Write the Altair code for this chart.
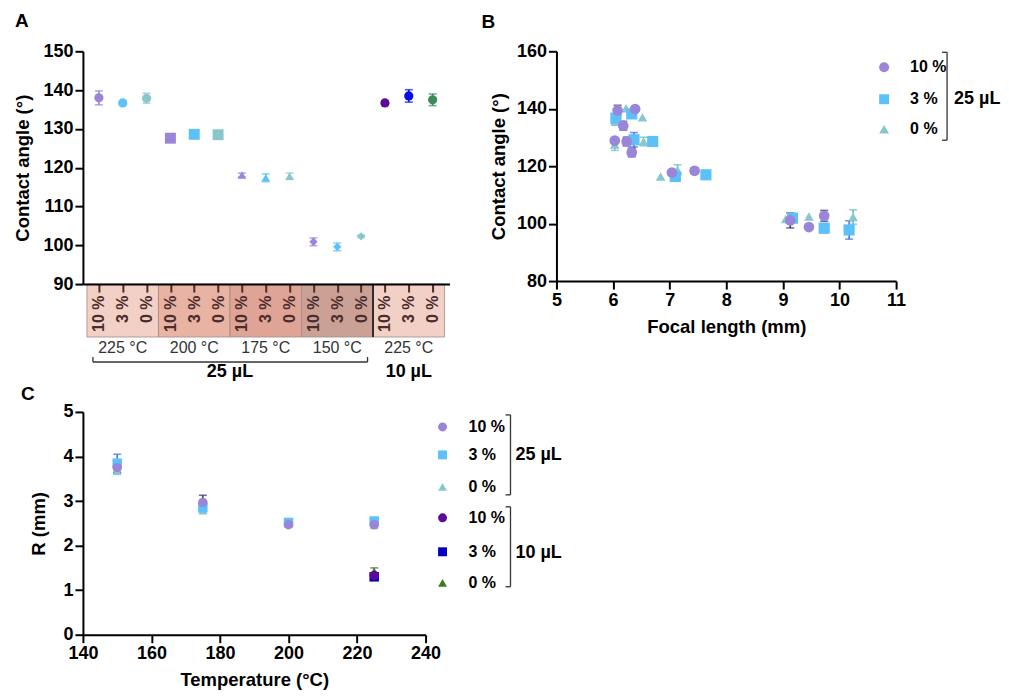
import altair as alt
import pandas as pd

FONT = "Liberation Sans"
PURPLE, LBLUE, TEAL = "#9a85d8", "#5ec0f8", "#88c8cc"
DPURPLE, DBLUE, DGREEN = "#5b0a9a", "#0a0af0", "#3e8a5a"
C_DBLUE, C_GREEN = "#0000c0", "#3a7d1e"
ERR10, ERR3, ERR0 = "#3b2f78", "#3a6cf0", "#6bbcbc"

# ---------------- Panel A data ----------------
a_labels = ["10 %", "3 %", "0 %"] * 5
a_groups = ["225 °C", "200 °C", "175 °C", "150 °C", "225 °C"]
a_group_fill = ["#f3d0c5", "#e8b3a2", "#dfa495", "#cba196", "#f3d0c5"]
a_group_shape = ["circle", "square", "triangle-up", "diamond", "circle"]
a_group_size = [85, 120, 75, 70, 85]
a_angle = [138.0, 136.7, 137.9, 127.6, 128.6, 128.5, 118.1, 117.4, 117.8,
           100.9, 99.6, 102.3, 136.7, 138.5, 137.5]
a_err = [1.8, 0.5, 1.3, 0.0, 0.0, 0.0, 0.5, 1.0, 0.8, 1.0, 1.0, 0.3, 0.5, 1.6, 1.5]
a_colors = [PURPLE, LBLUE, TEAL] * 4 + [DPURPLE, DBLUE, DGREEN]
a_volumes = ["25 µL", "10 µL"]

# ---------------- Panel B data ----------------
b10_x = [6.08, 6.39, 6.18, 6.03, 6.24, 6.33, 7.04, 7.44, 9.13, 9.46, 9.73]
b10_y = [139.4, 139.9, 134.1, 128.9, 128.6, 124.8, 117.8, 118.4, 101.1, 98.8, 102.7]
b10_e = [1.8, 0.0, 1.5, 0.0, 1.5, 1.5, 0.0, 1.0, 2.6, 0.0, 1.9]
b3_x = [6.05, 6.33, 6.37, 6.70, 7.10, 7.64, 9.17, 9.73, 10.17]
b3_y = [136.7, 138.2, 129.2, 128.6, 116.4, 117.0, 101.9, 98.4, 97.8]
b3_e = [1.0, 0.0, 2.5, 1.5, 0.8, 0.0, 0.0, 1.5, 3.2]
b0_x = [6.04, 6.23, 6.52, 6.03, 6.54, 6.84, 7.14, 9.05, 9.46, 10.24]
b0_y = [135.5, 140.2, 137.0, 127.5, 128.6, 116.4, 118.7, 101.6, 102.5, 102.3]
b0_e = [0.0, 0.0, 0.0, 2.0, 1.5, 0.0, 1.8, 0.0, 0.0, 2.5]

# ---------------- Panel C data ----------------
c_temp = [150, 175, 200, 225]
c25_10, c25_10_e = [3.75, 2.97, 2.47, 2.47], [0.12, 0.16, 0.03, 0.03]
c25_3, c25_3_e = [3.85, 2.85, 2.52, 2.55], [0.20, 0.05, 0.05, 0.08]
c25_0, c25_0_e = [3.68, 2.78, 2.48, 2.45], [0.08, 0.05, 0.03, 0.03]
c10_temp = [225]
c10_10, c10_10_e = [1.33], [0.05]
c10_3, c10_3_e = [1.30], [0.08]
c10_0, c10_0_e = [1.42], [0.08]

legend_labels = ["10 %", "3 %", "0 %"]


def one():
    return pd.DataFrame({"k": [0]})


def letter(ch, x, y):
    return alt.Chart(one()).mark_text(text=ch, align="left", baseline="alphabetic",
                                      fontSize=19, fontWeight="bold", color="black").encode(
        x=alt.value(x), y=alt.value(y))


def bracket(x, y0, y1, tick=5):
    v = alt.Chart(one()).mark_rule(color="#333", strokeWidth=1.3).encode(
        x=alt.value(x), y=alt.value(y0), y2=alt.value(y1))
    t1 = alt.Chart(one()).mark_rule(color="#333", strokeWidth=1.3).encode(
        x=alt.value(x - tick), x2=alt.value(x), y=alt.value(y0))
    t2 = alt.Chart(one()).mark_rule(color="#333", strokeWidth=1.3).encode(
        x=alt.value(x - tick), x2=alt.value(x), y=alt.value(y1))
    return [v, t1, t2]


def legend(entries, x_sym, x_txt, ys, size=90):
    layers = []
    for (lab, shape, color), y in zip(entries, ys):
        d = pd.DataFrame({"lab": [lab], "shape": [shape], "color": [color]})
        layers.append(alt.Chart(d).mark_point(filled=True, opacity=1, size=size).encode(
            x=alt.value(x_sym), y=alt.value(y),
            shape=alt.Shape("shape:N", scale=None), color=alt.Color("color:N", scale=None)))
        layers.append(alt.Chart(d).mark_text(align="left", baseline="middle", fontSize=16,
                                             fontWeight="bold", color="black").encode(
            x=alt.value(x_txt), y=alt.value(y), text="lab:N"))
    return layers


def vol_text(t, x, y):
    return alt.Chart(pd.DataFrame({"t": [t]})).mark_text(
        align="left", baseline="middle", fontSize=18, fontWeight="bold", color="black").encode(
        x=alt.value(x), y=alt.value(y), text="t:N")


def scatter_layers(df, xs, ys, xfield, xaxis, yaxis, cap=8):
    de = df[df["err"] > 0]
    xe = alt.X(f"{xfield}:Q", scale=xs, axis=xaxis)
    rule = alt.Chart(de).mark_rule(strokeWidth=1.5).encode(
        x=xe, y=alt.Y("lo:Q", scale=ys, axis=yaxis), y2="hi:Q",
        color=alt.Color("ecolor:N", scale=None))
    cap_lo = alt.Chart(de).mark_tick(orient="horizontal", size=cap, thickness=1.6).encode(
        x=xe, y=alt.Y("lo:Q", scale=ys, axis=yaxis), color=alt.Color("ecolor:N", scale=None))
    cap_hi = alt.Chart(de).mark_tick(orient="horizontal", size=cap, thickness=1.6).encode(
        x=xe, y=alt.Y("hi:Q", scale=ys, axis=yaxis), color=alt.Color("ecolor:N", scale=None))
    pts = alt.Chart(df).mark_point(filled=True, opacity=1).encode(
        x=xe, y=alt.Y("val:Q", scale=ys, axis=yaxis),
        shape=alt.Shape("shape:N", scale=None), color=alt.Color("color:N", scale=None),
        size=alt.Size("size:Q", scale=None))
    return [rule, cap_lo, cap_hi, pts]


# ================= Panel A =================
WA, HA = 367, 233
idx = list(range(1, 16))
dfA = pd.DataFrame({
    "idx": idx, "val": a_angle, "err": a_err,
    "color": a_colors, "ecolor": a_colors,
    "shape": [s for s in a_group_shape for _ in range(3)],
    "size": [s for s in a_group_size for _ in range(3)],
})
dfA["lo"] = dfA["val"] - dfA["err"]
dfA["hi"] = dfA["val"] + dfA["err"]

xA = alt.Scale(domain=[0.33, 15.71], nice=False, zero=False)
yA = alt.Scale(domain=[90, 150], nice=False, zero=False)
label_js = "[" + ",".join(f"'{l}'" for l in a_labels) + "][datum.value - 1]"
xaxisA = alt.Axis(values=idx, labelExpr=label_js, labelAngle=270, labelFontSize=16,
                  labelColor="#4a2c2c", tickColor="#4a2c2c", tickSize=8, tickWidth=2,
                  labelPadding=3, labelFlush=False, labelOverlap=False, zindex=1, title=None)
yaxisA = alt.Axis(values=list(range(90, 151, 10)), title="Contact angle (°)", titlePadding=10)

boxes = pd.DataFrame({
    "x0": [0.5 + 3 * i for i in range(5)], "x1": [3.5 + 3 * i for i in range(5)],
    "xc": [2 + 3 * i for i in range(5)], "fill": a_group_fill, "temp": a_groups,
})
rectA = alt.Chart(boxes).mark_rect(stroke="#a08a86", strokeWidth=0.8).encode(
    x=alt.X("x0:Q", scale=xA, axis=xaxisA), x2="x1:Q",
    y=alt.value(HA), y2=alt.value(HA + 53), fill=alt.Fill("fill:N", scale=None))
divider = alt.Chart(pd.DataFrame({"x": [12.5]})).mark_rule(color="#222", strokeWidth=1.8).encode(
    x=alt.X("x:Q", scale=xA, axis=xaxisA), y=alt.value(HA), y2=alt.value(HA + 53))
tempText = alt.Chart(boxes).mark_text(fontSize=16, color="#333", baseline="middle").encode(
    x=alt.X("xc:Q", scale=xA, axis=xaxisA), y=alt.value(HA + 64), text="temp:N")
br = pd.DataFrame({"x0": [0.75], "x1": [12.27]})
brH = alt.Chart(br).mark_rule(color="#333", strokeWidth=1.3).encode(
    x=alt.X("x0:Q", scale=xA, axis=xaxisA), x2="x1:Q", y=alt.value(HA + 78))
brV = alt.Chart(pd.DataFrame({"x": [0.75, 12.27]})).mark_rule(color="#333", strokeWidth=1.3).encode(
    x=alt.X("x:Q", scale=xA, axis=xaxisA), y=alt.value(HA + 73), y2=alt.value(HA + 78))
volA = alt.Chart(pd.DataFrame({"x": [6.5, 14], "t": a_volumes})).mark_text(
    fontSize=18, fontWeight="bold", color="black", baseline="middle").encode(
    x=alt.X("x:Q", scale=xA, axis=xaxisA), y=alt.value(HA + 88), text="t:N")

panelA = alt.layer(
    rectA, divider, *scatter_layers(dfA, xA, yA, "idx", xaxisA, yaxisA),
    tempText, brH, brV, volA, letter("A", -68, -24)
).properties(width=WA, height=HA)

# ================= Panel B =================
WB, HB = 340, 230


def mk(xs, ys, es, shape, color, ecolor, size):
    d = pd.DataFrame({"x": xs, "val": ys, "err": es})
    d["lo"] = d["val"] - d["err"]
    d["hi"] = d["val"] + d["err"]
    d["shape"] = shape
    d["color"] = color
    d["ecolor"] = ecolor
    d["size"] = size
    return d


dfB = pd.concat([
    mk(b0_x, b0_y, b0_e, "triangle-up", TEAL, ERR0, 95),
    mk(b3_x, b3_y, b3_e, "square", LBLUE, ERR3, 125),
    mk(b10_x, b10_y, b10_e, "circle", PURPLE, ERR10, 115),
], ignore_index=True)
xB = alt.Scale(domain=[5, 11], nice=False, zero=False)
yB = alt.Scale(domain=[80, 160], nice=False, zero=False)
xaxisB = alt.Axis(values=list(range(5, 12)), title="Focal length (mm)", titlePadding=8)
yaxisB = alt.Axis(values=list(range(80, 161, 20)), title="Contact angle (°)", titlePadding=8)

legB = legend([(legend_labels[0], "circle", PURPLE), (legend_labels[1], "square", LBLUE),
               (legend_labels[2], "triangle-up", TEAL)], 328, 354, [16, 48, 78], size=100)
panelB = alt.layer(
    *scatter_layers(dfB, xB, yB, "x", xaxisB, yaxisB),
    *legB, *bracket(391, 1, 89), vol_text("25 µL", 398, 48), letter("B", -75, -23)
).properties(width=WB, height=HB)

# ================= Panel C =================
WC, HC = 343, 223
dfC = pd.concat([
    mk(c_temp, c25_0, c25_0_e, "triangle-up", TEAL, ERR0, 75),
    mk(c_temp, c25_3, c25_3_e, "square", LBLUE, ERR3, 90),
    mk(c_temp, c25_10, c25_10_e, "circle", PURPLE, ERR10, 90),
    mk(c10_temp, c10_0, c10_0_e, "triangle-up", C_GREEN, C_GREEN, 75),
    mk(c10_temp, c10_3, c10_3_e, "square", C_DBLUE, C_DBLUE, 90),
    mk(c10_temp, c10_10, c10_10_e, "circle", DPURPLE, DPURPLE, 90),
], ignore_index=True)
xC = alt.Scale(domain=[140, 240], nice=False, zero=False)
yC = alt.Scale(domain=[0, 5], nice=False, zero=False)
xaxisC = alt.Axis(values=list(range(140, 241, 20)), title="Temperature (°C)", titlePadding=8)
yaxisC = alt.Axis(values=list(range(0, 6)), title="R (mm)", titlePadding=14)

legC = legend([(legend_labels[0], "circle", PURPLE), (legend_labels[1], "square", LBLUE),
               (legend_labels[2], "triangle-up", TEAL),
               (legend_labels[0], "circle", DPURPLE), (legend_labels[1], "square", C_DBLUE),
               (legend_labels[2], "triangle-up", C_GREEN)],
              360, 386, [15, 43, 75, 106, 140, 171], size=80)
panelC = alt.layer(
    *scatter_layers(dfC, xC, yC, "x", xaxisC, yaxisC),
    *legC, *bracket(428, 3, 83), *bracket(428, 95, 175),
    vol_text("25 µL", 433, 43), vol_text("10 µL", 433, 141), letter("C", -62, -12)
).properties(width=WC, height=HC)

top = alt.hconcat(panelA, panelB, spacing=32)
chart = alt.vconcat(top, panelC, spacing=4).properties(
    padding={"left": 5, "top": 4, "right": 0, "bottom": 0}
).configure_axis(
    labelFont=FONT, titleFont=FONT, labelFontSize=18, labelFontWeight="bold",
    titleFontSize=18.5, titleFontWeight="bold", labelColor="black", titleColor="black",
    domainColor="black", domainWidth=2, tickColor="black", tickWidth=2, tickSize=8,
    grid=False, labelPadding=2, labelFlush=False
).configure_view(stroke=None).configure_text(font=FONT)

chart.save("out.html", embed_options={"renderer": "svg", "actions": False})
